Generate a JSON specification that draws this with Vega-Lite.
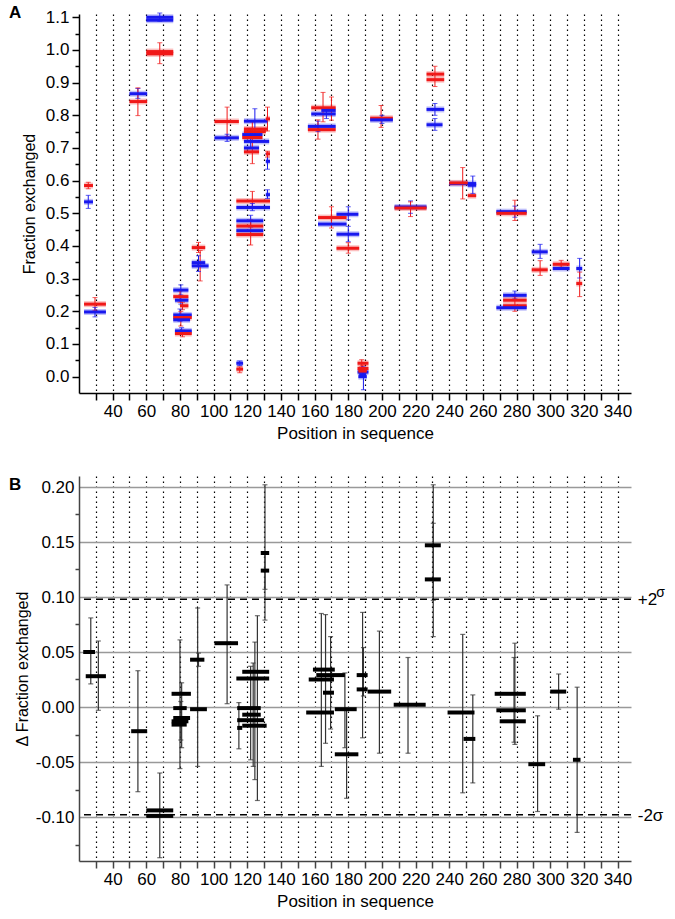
{
  "$schema": "https://vega.github.io/schema/vega-lite/v6.json",
  "padding": {"left": 9, "top": 4, "right": 2, "bottom": 2},
  "spacing": 35,
  "config": {
    "font": "Liberation Sans",
    "view": {"stroke": null},
    "axis": {"labelFont": "Liberation Sans", "titleFont": "Liberation Sans", "labelFontSize": 17, "titleFontSize": 16, "titleFontWeight": "normal", "labelColor": "#000", "titleColor": "#000", "domainColor": "#000", "domainWidth": 1.5, "tickColor": "#000", "tickWidth": 1.5, "tickCount": 1000, "labelOverlap": false},
    "title": {"font": "Liberation Sans", "fontSize": 17, "fontWeight": "bold", "color": "#000"}
  },
  "datasets": {
    "segA": [
      {"s": 23, "e": 28.3, "v": 0.585, "c": "r"},
      {"s": 23, "e": 28.3, "v": 0.535, "c": "b"},
      {"s": 23, "e": 36, "v": 0.222, "c": "r"},
      {"s": 23, "e": 36, "v": 0.198, "c": "b"},
      {"s": 50, "e": 60.5, "v": 0.866, "c": "b"},
      {"s": 50, "e": 60.5, "v": 0.842, "c": "r"},
      {"s": 60, "e": 76, "v": 1.1, "c": "b"},
      {"s": 60, "e": 76, "v": 1.091, "c": "b"},
      {"s": 60, "e": 76, "v": 0.995, "c": "r"},
      {"s": 60, "e": 76, "v": 0.988, "c": "r"},
      {"s": 76, "e": 85, "v": 0.265, "c": "b"},
      {"s": 76, "e": 85, "v": 0.245, "c": "r"},
      {"s": 77, "e": 85, "v": 0.234, "c": "b"},
      {"s": 80, "e": 85, "v": 0.217, "c": "r"},
      {"s": 76, "e": 87, "v": 0.189, "c": "b"},
      {"s": 76, "e": 87, "v": 0.181, "c": "r"},
      {"s": 76, "e": 86, "v": 0.174, "c": "b"},
      {"s": 77, "e": 87, "v": 0.14, "c": "b"},
      {"s": 77, "e": 87, "v": 0.132, "c": "r"},
      {"s": 87, "e": 95, "v": 0.395, "c": "r"},
      {"s": 87, "e": 95, "v": 0.349, "c": "b"},
      {"s": 87, "e": 97, "v": 0.339, "c": "b"},
      {"s": 100.5, "e": 115, "v": 0.781, "c": "r"},
      {"s": 100.5, "e": 115, "v": 0.731, "c": "b"},
      {"s": 118, "e": 132, "v": 0.782, "c": "b"},
      {"s": 131, "e": 133.5, "v": 0.789, "c": "r"},
      {"s": 118, "e": 132, "v": 0.758, "c": "r"},
      {"s": 118, "e": 131, "v": 0.75, "c": "r"},
      {"s": 117, "e": 129, "v": 0.741, "c": "b"},
      {"s": 117, "e": 129, "v": 0.732, "c": "r"},
      {"s": 118, "e": 133, "v": 0.72, "c": "b"},
      {"s": 118, "e": 127, "v": 0.7, "c": "b"},
      {"s": 118, "e": 127, "v": 0.688, "c": "r"},
      {"s": 131, "e": 133.5, "v": 0.682, "c": "r"},
      {"s": 131, "e": 133.5, "v": 0.659, "c": "b"},
      {"s": 131, "e": 133.5, "v": 0.557, "c": "b"},
      {"s": 113.5, "e": 133.5, "v": 0.538, "c": "r"},
      {"s": 113.5, "e": 133.5, "v": 0.518, "c": "b"},
      {"s": 113.5, "e": 129.5, "v": 0.477, "c": "b"},
      {"s": 113.5, "e": 129.5, "v": 0.461, "c": "r"},
      {"s": 113.5, "e": 129.5, "v": 0.447, "c": "b"},
      {"s": 113.5, "e": 129.5, "v": 0.435, "c": "r"},
      {"s": 113.5, "e": 117.5, "v": 0.041, "c": "b"},
      {"s": 113.5, "e": 117.5, "v": 0.023, "c": "r"},
      {"s": 158, "e": 172.5, "v": 0.823, "c": "r"},
      {"s": 164, "e": 172.5, "v": 0.815, "c": "b"},
      {"s": 158, "e": 172.5, "v": 0.804, "c": "b"},
      {"s": 156, "e": 172.5, "v": 0.766, "c": "b"},
      {"s": 156, "e": 172.5, "v": 0.756, "c": "r"},
      {"s": 162, "e": 179, "v": 0.487, "c": "r"},
      {"s": 162, "e": 179, "v": 0.467, "c": "b"},
      {"s": 173, "e": 186, "v": 0.497, "c": "b"},
      {"s": 173, "e": 186.5, "v": 0.436, "c": "b"},
      {"s": 173, "e": 186.5, "v": 0.393, "c": "r"},
      {"s": 185.5, "e": 192, "v": 0.041, "c": "r"},
      {"s": 185.5, "e": 192, "v": 0.025, "c": "r"},
      {"s": 185.5, "e": 192, "v": 0.014, "c": "b"},
      {"s": 186, "e": 191, "v": 0.017, "c": "r"},
      {"s": 186, "e": 191, "v": 0.0, "c": "b"},
      {"s": 186.5, "e": 190.5, "v": 0.006, "c": "b"},
      {"s": 193, "e": 206.5, "v": 0.791, "c": "r"},
      {"s": 193, "e": 206.5, "v": 0.786, "c": "b"},
      {"s": 207.5, "e": 226.5, "v": 0.519, "c": "b"},
      {"s": 207.5, "e": 226.5, "v": 0.516, "c": "r"},
      {"s": 226.5, "e": 237, "v": 0.926, "c": "r"},
      {"s": 226.5, "e": 237, "v": 0.909, "c": "r"},
      {"s": 226.5, "e": 237, "v": 0.818, "c": "b"},
      {"s": 226.5, "e": 236, "v": 0.771, "c": "b"},
      {"s": 240, "e": 256, "v": 0.591, "c": "b"},
      {"s": 240, "e": 251, "v": 0.593, "c": "r"},
      {"s": 251, "e": 256, "v": 0.586, "c": "b"},
      {"s": 251, "e": 256, "v": 0.554, "c": "r"},
      {"s": 268, "e": 286, "v": 0.505, "c": "b"},
      {"s": 268, "e": 286, "v": 0.5, "c": "r"},
      {"s": 272, "e": 286, "v": 0.249, "c": "b"},
      {"s": 272, "e": 286, "v": 0.234, "c": "r"},
      {"s": 272, "e": 286, "v": 0.217, "c": "r"},
      {"s": 268, "e": 286, "v": 0.211, "c": "b"},
      {"s": 289, "e": 298.5, "v": 0.382, "c": "b"},
      {"s": 289, "e": 298.5, "v": 0.327, "c": "r"},
      {"s": 301.5, "e": 311.5, "v": 0.344, "c": "r"},
      {"s": 301.5, "e": 311.5, "v": 0.331, "c": "b"},
      {"s": 315.5, "e": 319, "v": 0.331, "c": "b"},
      {"s": 315.5, "e": 319, "v": 0.285, "c": "r"}
    ],
    "errA": [
      {"m": 25.5, "lo": 0.575, "hi": 0.595, "c": "r"},
      {"m": 25.5, "lo": 0.515, "hi": 0.555, "c": "b"},
      {"m": 29.5, "lo": 0.203, "hi": 0.242, "c": "r"},
      {"m": 29.5, "lo": 0.183, "hi": 0.212, "c": "b"},
      {"m": 55, "lo": 0.852, "hi": 0.882, "c": "b"},
      {"m": 55, "lo": 0.799, "hi": 0.884, "c": "r"},
      {"m": 68, "lo": 1.088, "hi": 1.113, "c": "b"},
      {"m": 68, "lo": 0.958, "hi": 1.022, "c": "r"},
      {"m": 80.5, "lo": 0.25, "hi": 0.281, "c": "b"},
      {"m": 80, "lo": 0.228, "hi": 0.262, "c": "r"},
      {"m": 80.5, "lo": 0.222, "hi": 0.246, "c": "b"},
      {"m": 81.5, "lo": 0.205, "hi": 0.228, "c": "r"},
      {"m": 80, "lo": 0.17, "hi": 0.207, "c": "b"},
      {"m": 80.5, "lo": 0.155, "hi": 0.2, "c": "r"},
      {"m": 81, "lo": 0.13, "hi": 0.15, "c": "b"},
      {"m": 81.5, "lo": 0.122, "hi": 0.142, "c": "r"},
      {"m": 91, "lo": 0.38, "hi": 0.411, "c": "r"},
      {"m": 91, "lo": 0.322, "hi": 0.37, "c": "b"},
      {"m": 92, "lo": 0.293, "hi": 0.386, "c": "r"},
      {"m": 108, "lo": 0.735, "hi": 0.825, "c": "r"},
      {"m": 108, "lo": 0.72, "hi": 0.742, "c": "b"},
      {"m": 124.5, "lo": 0.735, "hi": 0.82, "c": "b"},
      {"m": 132, "lo": 0.752, "hi": 0.825, "c": "r"},
      {"m": 123, "lo": 0.652, "hi": 0.78, "c": "r"},
      {"m": 122, "lo": 0.7, "hi": 0.76, "c": "b"},
      {"m": 132, "lo": 0.635, "hi": 0.682, "c": "b"},
      {"m": 132, "lo": 0.672, "hi": 0.69, "c": "r"},
      {"m": 132, "lo": 0.545, "hi": 0.572, "c": "b"},
      {"m": 123, "lo": 0.52, "hi": 0.567, "c": "r"},
      {"m": 123, "lo": 0.508, "hi": 0.53, "c": "b"},
      {"m": 122, "lo": 0.458, "hi": 0.494, "c": "b"},
      {"m": 122, "lo": 0.403, "hi": 0.48, "c": "r"},
      {"m": 115.5, "lo": 0.034, "hi": 0.048, "c": "b"},
      {"m": 115.5, "lo": 0.012, "hi": 0.03, "c": "r"},
      {"m": 165, "lo": 0.78, "hi": 0.87, "c": "r"},
      {"m": 170, "lo": 0.785, "hi": 0.856, "c": "r"},
      {"m": 167, "lo": 0.79, "hi": 0.82, "c": "b"},
      {"m": 162, "lo": 0.75, "hi": 0.782, "c": "b"},
      {"m": 162, "lo": 0.727, "hi": 0.786, "c": "r"},
      {"m": 170, "lo": 0.455, "hi": 0.52, "c": "r"},
      {"m": 180, "lo": 0.48, "hi": 0.52, "c": "b"},
      {"m": 180, "lo": 0.413, "hi": 0.46, "c": "b"},
      {"m": 180, "lo": 0.378, "hi": 0.41, "c": "r"},
      {"m": 188, "lo": 0.03, "hi": 0.052, "c": "r"},
      {"m": 189, "lo": -0.04, "hi": 0.03, "c": "b"},
      {"m": 188.5, "lo": 0.005, "hi": 0.035, "c": "r"},
      {"m": 199.5, "lo": 0.763, "hi": 0.83, "c": "r"},
      {"m": 200, "lo": 0.775, "hi": 0.8, "c": "b"},
      {"m": 217, "lo": 0.5, "hi": 0.538, "c": "b"},
      {"m": 217, "lo": 0.49, "hi": 0.535, "c": "r"},
      {"m": 231.5, "lo": 0.888, "hi": 0.95, "c": "r"},
      {"m": 231.5, "lo": 0.8, "hi": 0.836, "c": "b"},
      {"m": 231.5, "lo": 0.754, "hi": 0.79, "c": "b"},
      {"m": 248, "lo": 0.544, "hi": 0.64, "c": "r"},
      {"m": 254, "lo": 0.56, "hi": 0.614, "c": "b"},
      {"m": 279, "lo": 0.488, "hi": 0.522, "c": "b"},
      {"m": 279, "lo": 0.478, "hi": 0.54, "c": "r"},
      {"m": 279, "lo": 0.238, "hi": 0.262, "c": "b"},
      {"m": 279, "lo": 0.2, "hi": 0.245, "c": "r"},
      {"m": 294, "lo": 0.362, "hi": 0.405, "c": "b"},
      {"m": 294, "lo": 0.31, "hi": 0.355, "c": "r"},
      {"m": 306.5, "lo": 0.335, "hi": 0.356, "c": "r"},
      {"m": 317.5, "lo": 0.302, "hi": 0.362, "c": "b"},
      {"m": 317.5, "lo": 0.245, "hi": 0.32, "c": "r"}
    ],
    "segB": [
      {"s": 22.5, "e": 29.5, "v": 0.05},
      {"s": 24, "e": 36, "v": 0.028},
      {"s": 51, "e": 60.5, "v": -0.022},
      {"s": 60, "e": 76, "v": -0.094},
      {"s": 60, "e": 76, "v": -0.099},
      {"s": 75, "e": 86.5, "v": 0.012},
      {"s": 76, "e": 84, "v": -0.001},
      {"s": 76, "e": 86, "v": -0.01},
      {"s": 75, "e": 85, "v": -0.013},
      {"s": 75, "e": 84, "v": -0.016},
      {"s": 86, "e": 94.5, "v": 0.043},
      {"s": 86, "e": 96, "v": -0.002},
      {"s": 100.5, "e": 114.5, "v": 0.058},
      {"s": 117, "e": 133, "v": 0.032},
      {"s": 113.5, "e": 133, "v": 0.026},
      {"s": 114, "e": 128, "v": -0.001},
      {"s": 117, "e": 128, "v": -0.007},
      {"s": 114, "e": 130, "v": -0.012},
      {"s": 117, "e": 131.5, "v": -0.017},
      {"s": 114, "e": 117, "v": -0.019},
      {"s": 128, "e": 133, "v": 0.14},
      {"s": 128, "e": 133, "v": 0.124},
      {"s": 159, "e": 172, "v": 0.034},
      {"s": 161, "e": 178, "v": 0.029},
      {"s": 156.5, "e": 171.5, "v": 0.025},
      {"s": 165, "e": 171.5, "v": 0.013},
      {"s": 155, "e": 171.5, "v": -0.005},
      {"s": 172, "e": 185, "v": -0.002},
      {"s": 172, "e": 186, "v": -0.043},
      {"s": 185, "e": 191.5, "v": 0.029},
      {"s": 185, "e": 191.5, "v": 0.016},
      {"s": 191.5, "e": 205.5, "v": 0.014},
      {"s": 207, "e": 226, "v": 0.002},
      {"s": 225.5, "e": 235, "v": 0.147},
      {"s": 225.5, "e": 235, "v": 0.116},
      {"s": 239, "e": 255, "v": -0.005},
      {"s": 248.5, "e": 255.5, "v": -0.029},
      {"s": 267, "e": 285.5, "v": 0.012},
      {"s": 268, "e": 285.5, "v": -0.003},
      {"s": 270, "e": 285.5, "v": -0.013},
      {"s": 287, "e": 297, "v": -0.052},
      {"s": 300, "e": 309.5, "v": 0.014},
      {"s": 313.5, "e": 318, "v": -0.048}
    ],
    "errB": [
      {"m": 27, "lo": 0.021, "hi": 0.081},
      {"m": 31.5, "lo": -0.003, "hi": 0.06},
      {"m": 55, "lo": -0.077, "hi": 0.033},
      {"m": 68, "lo": -0.137, "hi": -0.06},
      {"m": 80, "lo": -0.056, "hi": 0.061},
      {"m": 81, "lo": -0.037, "hi": 0.022},
      {"m": 80.5, "lo": -0.03, "hi": 0.005},
      {"m": 90.5, "lo": -0.054, "hi": 0.09},
      {"m": 91, "lo": 0.037, "hi": 0.049},
      {"m": 108, "lo": 0.003, "hi": 0.111},
      {"m": 115, "lo": -0.038, "hi": 0.004},
      {"m": 122, "lo": -0.048, "hi": 0.037},
      {"m": 123.5, "lo": -0.054, "hi": 0.04},
      {"m": 124.5, "lo": -0.066, "hi": 0.059},
      {"m": 126, "lo": -0.085, "hi": 0.083},
      {"m": 130.5, "lo": 0.079, "hi": 0.202},
      {"m": 130.5, "lo": 0.107, "hi": 0.14},
      {"m": 164, "lo": -0.054, "hi": 0.085},
      {"m": 166.5, "lo": -0.033, "hi": 0.084},
      {"m": 169.5, "lo": -0.02, "hi": 0.064},
      {"m": 178, "lo": -0.037, "hi": 0.031},
      {"m": 179, "lo": -0.083, "hi": -0.003},
      {"m": 188.5, "lo": -0.028, "hi": 0.086},
      {"m": 189, "lo": 0.01, "hi": 0.054},
      {"m": 198.5, "lo": -0.042, "hi": 0.069},
      {"m": 215.5, "lo": -0.042, "hi": 0.045},
      {"m": 230.5, "lo": 0.064, "hi": 0.202},
      {"m": 230.5, "lo": 0.097, "hi": 0.167},
      {"m": 248, "lo": -0.078, "hi": 0.066},
      {"m": 254, "lo": -0.069, "hi": 0.011},
      {"m": 279, "lo": -0.034, "hi": 0.058},
      {"m": 278.5, "lo": -0.032, "hi": 0.045},
      {"m": 292.5, "lo": -0.095, "hi": -0.008},
      {"m": 305, "lo": -0.002, "hi": 0.03},
      {"m": 316, "lo": -0.114, "hi": 0.018}
    ],
    "sigma": [
      {"y": 0.098, "t": "+2"},
      {"y": -0.098, "t": "-2σ"}
    ]
  },
  "vconcat": [
    {
      "title": {"text": "A", "anchor": "start", "frame": "group", "dx": -70, "dy": 14, "offset": 0},
      "width": 552,
      "height": 379,
      "layer": [
        {
          "data": {"name": "segA"},
          "mark": {"type": "rule", "strokeWidth": 6, "opacity": 0.28},
          "encoding": {
            "x": {"field": "s", "type": "quantitative", "scale": {"domain": [20, 348], "nice": false, "zero": false},
              "axis": {"title": "Position in sequence", "values": [30,40,50,60,70,80,90,100,110,120,130,140,150,160,170,180,190,200,210,220,230,240,250,260,270,280,290,300,310,320,330,340],
                "labelExpr": "datum.value % 20 == 0 ? format(datum.value, 'd') : ''", "grid": true, "gridDash": [1.5, 3.5], "gridColor": "#000", "gridWidth": 1.2, "tickSize": 7, "labelPadding": 3, "titlePadding": 6, "titleFontSize": 17, "labelFlush": false}},
            "x2": {"field": "e"},
            "y": {"field": "v", "type": "quantitative", "scale": {"domain": [-0.05, 1.11], "nice": false, "zero": false},
              "axis": {"title": "Fraction exchanged", "values": [0,0.05,0.1,0.15,0.2,0.25,0.3,0.35,0.4,0.45,0.5,0.55,0.6,0.65,0.7,0.75,0.8,0.85,0.9,0.95,1.0,1.05,1.1],
                "labelExpr": "round(datum.value*20) % 2 == 0 ? format(datum.value, '.1f') : ''",
                "tickSize": {"condition": {"test": "round(datum.value*20) % 2 == 0", "value": 7}, "value": 4},
                "grid": false, "labelPadding": 3, "titlePadding": 8, "labelFlush": false}},
            "color": {"field": "c", "type": "nominal", "scale": {"domain": ["r", "b"], "range": ["#f01818", "#1818ee"]}, "legend": null}
          }
        },
        {
          "data": {"name": "errA"},
          "mark": {"type": "rule", "strokeWidth": 1},
          "encoding": {
            "x": {"field": "m", "type": "quantitative"},
            "y": {"field": "lo", "type": "quantitative"},
            "y2": {"field": "hi"},
            "color": {"field": "c", "type": "nominal", "legend": null}
          }
        },
        {
          "data": {"name": "errA"},
          "mark": {"type": "tick", "orient": "horizontal", "size": 5, "thickness": 1},
          "encoding": {
            "x": {"field": "m", "type": "quantitative"},
            "y": {"field": "lo", "type": "quantitative"},
            "color": {"field": "c", "type": "nominal", "legend": null}
          }
        },
        {
          "data": {"name": "errA"},
          "mark": {"type": "tick", "orient": "horizontal", "size": 5, "thickness": 1},
          "encoding": {
            "x": {"field": "m", "type": "quantitative"},
            "y": {"field": "hi", "type": "quantitative"},
            "color": {"field": "c", "type": "nominal", "legend": null}
          }
        },
        {
          "data": {"name": "segA"},
          "mark": {"type": "rule", "strokeWidth": 3},
          "encoding": {
            "x": {"field": "s", "type": "quantitative"},
            "x2": {"field": "e"},
            "y": {"field": "v", "type": "quantitative"},
            "color": {"field": "c", "type": "nominal", "legend": null}
          }
        }
      ]
    },
    {
      "title": {"text": "B", "anchor": "start", "frame": "group", "dx": -70, "dy": 18, "offset": 0},
      "width": 552,
      "height": 385,
      "layer": [
        {
          "data": {"name": "errB"},
          "mark": {"type": "rule", "strokeWidth": 1.2, "color": "#333"},
          "encoding": {
            "x": {"field": "m", "type": "quantitative", "scale": {"domain": [20, 348], "nice": false, "zero": false},
              "axis": {"title": "Position in sequence", "values": [30,40,50,60,70,80,90,100,110,120,130,140,150,160,170,180,190,200,210,220,230,240,250,260,270,280,290,300,310,320,330,340],
                "labelExpr": "datum.value % 20 == 0 ? format(datum.value, 'd') : ''", "grid": true, "gridDash": [1.5, 3.5], "gridColor": "#000", "gridWidth": 1.2, "tickSize": 7, "labelPadding": 3, "titlePadding": 6, "titleFontSize": 17, "domainColor": "#444", "tickColor": "#444", "labelFlush": false}},
            "y": {"field": "lo", "type": "quantitative", "scale": {"domain": [-0.14, 0.21], "nice": false, "zero": false},
              "axis": {"title": "Δ Fraction exchanged", "values": [-0.125,-0.1,-0.075,-0.05,-0.025,0,0.025,0.05,0.075,0.1,0.125,0.15,0.175,0.2],
                "labelExpr": "round(datum.value*40) % 2 == 0 ? replace(format(datum.value, '.2f'), '−', '-') : ''",
                "tickSize": {"condition": {"test": "round(datum.value*40) % 2 == 0", "value": 0}, "value": 4},
                "grid": true, "gridColor": "#999", "gridWidth": 1.3,
                "gridOpacity": {"condition": {"test": "round(datum.value*40) % 2 == 0", "value": 1}, "value": 0},
                "domainColor": "#444", "tickColor": "#444", "labelPadding": 5, "titlePadding": 5, "labelFlush": false}},
            "y2": {"field": "hi"}
          }
        },
        {
          "data": {"name": "errB"},
          "mark": {"type": "tick", "orient": "horizontal", "size": 5, "thickness": 1.2, "color": "#333"},
          "encoding": {
            "x": {"field": "m", "type": "quantitative"},
            "y": {"field": "lo", "type": "quantitative"}
          }
        },
        {
          "data": {"name": "errB"},
          "mark": {"type": "tick", "orient": "horizontal", "size": 5, "thickness": 1.2, "color": "#333"},
          "encoding": {
            "x": {"field": "m", "type": "quantitative"},
            "y": {"field": "hi", "type": "quantitative"}
          }
        },
        {
          "data": {"name": "segB"},
          "mark": {"type": "rule", "strokeWidth": 4, "color": "#000"},
          "encoding": {
            "x": {"field": "s", "type": "quantitative"},
            "x2": {"field": "e"},
            "y": {"field": "v", "type": "quantitative"}
          }
        },
        {
          "data": {"name": "sigma"},
          "mark": {"type": "rule", "strokeDash": [7, 5], "strokeWidth": 1.5, "color": "#000"},
          "encoding": {
            "y": {"field": "y", "type": "quantitative"}
          }
        },
        {
          "data": {"name": "sigma"},
          "mark": {"type": "text", "align": "left", "baseline": "middle", "fontSize": 17, "font": "Liberation Sans", "color": "#000", "dy": 1},
          "encoding": {
            "x": {"datum": 352, "type": "quantitative"},
            "y": {"field": "y", "type": "quantitative"},
            "text": {"field": "t"}
          }
        },
        {
          "data": {"values": [{"y": 0.098, "t": "σ"}]},
          "mark": {"type": "text", "align": "left", "baseline": "middle", "fontSize": 14, "font": "Liberation Sans", "color": "#000", "dy": -6},
          "encoding": {
            "x": {"datum": 363, "type": "quantitative"},
            "y": {"field": "y", "type": "quantitative"},
            "text": {"field": "t"}
          }
        }
      ]
    }
  ]
}
